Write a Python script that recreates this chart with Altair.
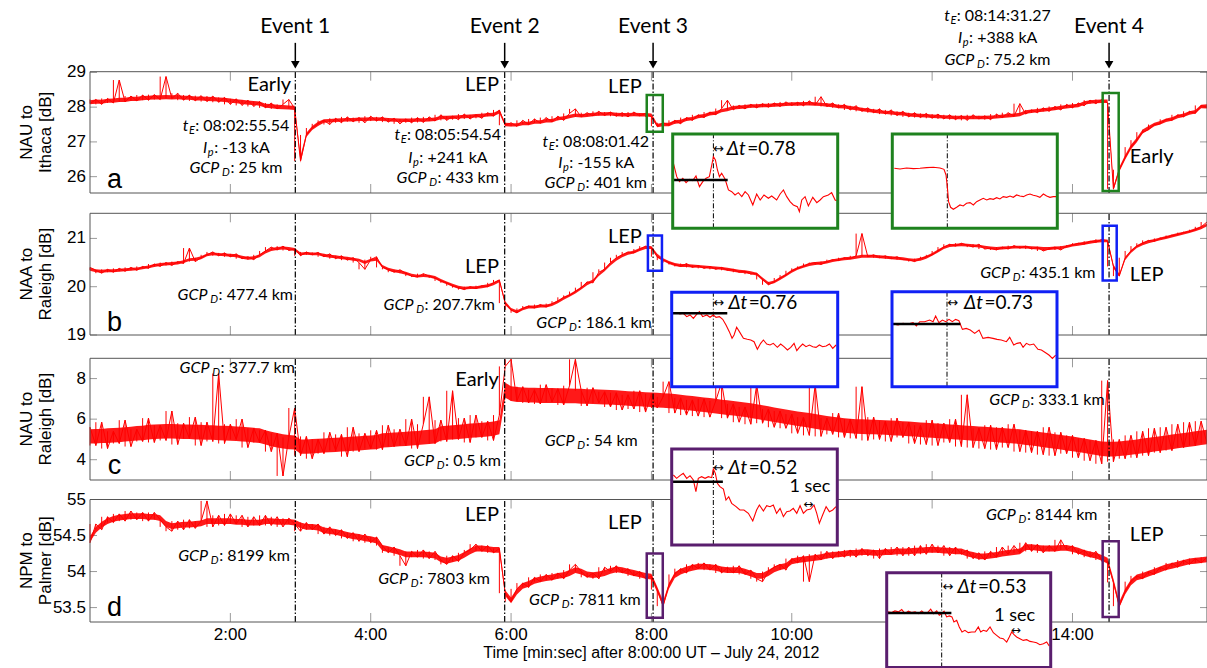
import altair as alt
import pandas as pd

# ------------------------------------------------------------------ data
TIME_S = list(range(0, 960, 5))  # sample times, seconds after 08:00:00 UT

# sampled excursions of each trace (5 s grid)
NAU_ITHACA = [
    28.10, 28.22, 28.08, 28.25, 28.12, 28.78, 28.15, 28.32, 28.18, 28.35,
    28.20, 28.36, 28.22, 28.88, 28.25, 28.40, 28.20, 28.35, 28.18, 28.33,
    28.16, 28.32, 28.14, 28.28, 28.08, 28.24, 28.05, 28.20, 28.02, 28.16,
    27.98, 28.12, 27.95, 28.08, 28.22, 27.96, 26.45, 27.20, 27.40, 27.52,
    27.62, 27.50, 27.68, 27.55, 27.72, 27.58, 27.70, 27.55, 27.74, 27.60,
    27.72, 27.57, 27.68, 27.52, 27.66, 27.55, 27.70, 27.56, 27.72, 27.60,
    27.78, 27.62, 27.74, 27.64, 27.80, 27.66, 27.78, 27.68, 27.84, 27.74,
    27.92, 27.48, 27.55, 27.45, 27.62, 27.50, 27.66, 27.54, 27.70, 27.58,
    27.74, 27.62, 27.82, 27.95, 27.72, 27.84, 27.75, 27.88, 27.76, 27.86,
    27.74, 27.84, 27.72, 27.86, 27.75, 27.82, 27.72, 27.45, 27.55, 27.48,
    27.62, 27.52, 27.70, 27.62, 27.78, 27.70, 27.86, 27.78, 27.96, 28.20,
    27.92, 28.05, 27.95, 28.08, 27.98, 28.10, 28.00, 28.12, 28.02, 28.15,
    28.05, 28.14, 28.04, 28.18, 28.06, 28.30, 28.02, 28.12, 27.98, 28.08,
    27.92, 28.04, 27.88, 27.98, 27.84, 27.95, 27.80, 27.92, 27.76, 27.88,
    27.72, 27.84, 27.70, 27.82, 27.68, 27.80, 27.66, 27.78, 27.64, 27.76,
    27.62, 27.78, 27.66, 27.75, 27.64, 27.80, 27.70, 27.84, 27.74, 28.10,
    27.80, 27.92, 27.84, 27.98, 27.88, 28.02, 27.92, 28.08, 27.98, 28.12,
    28.04, 28.20, 28.10, 28.22, 28.12, 25.65, 26.20, 26.55, 26.85, 27.05,
    27.28, 27.35, 27.50, 27.52, 27.65, 27.62, 27.78, 27.72, 27.88, 27.82,
    28.05, 28.00,
]
NAA_RALEIGH = [
    20.40, 20.34, 20.28, 20.36, 20.30, 20.38, 20.32, 20.40, 20.34, 20.42,
    20.38, 20.47, 20.42, 20.50, 20.44, 20.52, 20.48, 20.80, 20.52, 20.60,
    20.66, 20.72, 20.64, 20.70, 20.62, 20.68, 20.58, 20.62, 20.56, 20.66,
    20.74, 20.82, 20.76, 20.84, 20.75, 20.78, 20.64, 20.72, 20.66, 20.71,
    20.62, 20.68, 20.58, 20.64, 20.55, 20.60, 20.50, 20.36, 20.56, 20.62,
    20.40, 20.36, 20.30, 20.35, 20.28, 20.22, 20.20, 20.27, 20.22, 20.18,
    20.12, 20.08, 20.02, 19.98, 19.94, 20.00, 19.96, 20.02, 20.00, 20.08,
    20.14, 19.66, 19.52, 19.46, 19.55, 19.60, 19.56, 19.63, 19.58, 19.65,
    19.70, 19.78, 19.82, 19.90, 19.98, 20.10, 20.08, 20.30, 20.36, 20.50,
    20.60, 20.66, 20.72, 20.70, 20.78, 20.84, 20.82, 20.62, 20.55, 20.50,
    20.46, 20.42, 20.48, 20.40, 20.44, 20.38, 20.42, 20.36, 20.40, 20.34,
    20.36, 20.30, 20.32, 20.26, 20.28, 20.15, 20.04, 20.10, 20.18, 20.24,
    20.33, 20.38, 20.42, 20.48, 20.50, 20.46, 20.52, 20.56, 20.54, 20.60,
    20.58, 20.64, 21.10, 20.62, 20.66, 20.60, 20.64, 20.58, 20.62, 20.56,
    20.56, 20.52, 20.58, 20.62, 20.66, 20.74, 20.82, 20.88, 20.84, 20.90,
    20.86, 20.82, 20.88, 20.78, 20.80, 20.76, 20.82, 20.78, 20.85, 20.80,
    20.84, 20.78, 20.82, 20.74, 20.78, 20.82, 20.76, 20.84, 20.86, 20.90,
    20.88, 20.94, 20.92, 20.98, 20.95, 20.42, 20.22, 20.60, 20.74, 20.84,
    20.90, 20.96, 20.94, 21.00, 21.02, 21.06, 21.08, 21.12, 21.14, 21.18,
    21.24, 21.34,
]
NAU_RALEIGH = [
    5.60, 4.70, 5.85, 4.55, 5.40, 4.80, 5.95, 4.65, 5.50, 4.90,
    6.05, 4.85, 5.70, 4.95, 6.40, 4.75, 5.80, 5.05, 6.10, 4.70,
    5.85, 4.90, 8.25, 4.80, 5.75, 5.00, 6.00, 4.60, 5.55, 4.85,
    5.45, 4.40, 5.30, 3.20, 5.10, 6.55, 4.20, 5.15, 4.05, 5.00,
    4.30, 5.35, 4.45, 5.25, 4.15, 5.60, 4.40, 5.30, 4.55, 5.45,
    4.50, 5.70, 4.65, 5.50, 4.70, 6.00, 4.55, 5.75, 7.10, 4.80,
    5.95, 4.90, 7.40, 5.00, 6.05, 4.85, 6.20, 5.10, 5.90, 4.95,
    6.20, 8.60, 8.95, 6.90, 7.60, 6.80, 7.45, 6.75, 7.70, 6.85,
    7.50, 6.70, 7.65, 8.95, 7.40, 6.65, 7.55, 6.80, 7.35, 6.60,
    7.30, 6.45, 7.20, 6.50, 7.40, 6.35, 7.25, 6.55, 7.10, 7.85,
    6.30, 7.05, 6.20, 6.95, 6.15, 7.00, 6.10, 6.90, 7.80, 6.05,
    6.75, 5.85, 6.60, 5.75, 7.70, 5.80, 6.50, 5.60, 6.40, 5.55,
    6.25, 5.30, 6.10, 5.20, 7.70, 5.15, 6.05, 5.25, 6.30, 5.10,
    6.00, 5.05, 7.60, 4.95, 6.10, 5.00, 5.90, 4.90, 6.05, 5.10,
    5.85, 4.80, 5.70, 4.75, 5.95, 4.70, 5.80, 4.85, 6.00, 4.65,
    7.20, 4.60, 5.55, 4.55, 5.70, 4.50, 5.60, 4.60, 5.75, 4.40,
    5.45, 4.35, 5.40, 4.25, 5.60, 4.20, 5.35, 4.30, 5.20, 4.10,
    5.05, 3.95, 4.95, 3.80, 7.90, 3.90, 5.00, 4.05, 5.20, 4.10,
    5.40, 4.20, 5.55, 4.35, 5.60, 4.45, 5.75, 4.60, 5.85, 4.70,
    5.90, 4.80,
]
NPM_PALMER = [
    54.40, 54.66, 54.58, 54.76, 54.68, 54.80, 54.70, 54.84, 54.72, 54.82,
    54.70, 54.82, 54.72, 54.62, 54.56, 54.70, 54.58, 54.72, 54.60, 54.70,
    54.98, 54.62, 54.78, 54.64, 54.80, 54.66, 54.78, 54.62, 54.76, 54.64,
    54.78, 54.64, 54.76, 54.62, 54.74, 54.66, 54.56, 54.68, 54.58, 54.66,
    54.52, 54.62, 54.50, 54.58, 54.46, 54.54, 54.42, 54.52, 54.40, 54.48,
    54.36, 54.26, 54.34, 54.22, 54.08, 54.28, 54.20, 54.30, 54.18, 54.28,
    54.16, 54.10, 54.22, 54.14, 54.26, 54.30, 54.38, 54.28, 54.36, 54.26,
    54.32, 53.70, 53.58, 53.76, 53.84, 53.78, 53.92, 53.86, 53.96, 53.88,
    53.98, 53.90, 54.02, 54.10, 54.00, 53.92, 53.98, 53.90, 54.06, 54.00,
    54.08, 53.98, 54.04, 53.94, 54.00, 53.90, 53.94, 53.75, 53.52, 53.82,
    53.96, 54.04, 53.98, 54.10, 54.04, 54.12, 54.02, 54.10, 53.98, 54.06,
    53.98, 54.08, 53.96, 54.02, 53.90, 53.86, 54.00, 54.06, 54.10, 54.02,
    54.18, 54.12, 54.22, 53.86, 54.24, 54.16, 54.28, 54.18, 54.28, 54.20,
    54.30, 54.20, 54.32, 54.22, 54.30, 54.18, 54.32, 54.24, 54.34, 54.22,
    54.34, 54.22, 54.36, 54.24, 54.38, 54.26, 54.36, 54.22, 54.34, 54.24,
    54.30, 54.18, 54.26, 54.16, 54.28, 54.20, 54.34, 54.24, 54.36, 54.26,
    54.40, 54.28, 54.38, 54.26, 54.36, 54.28, 54.44, 54.30, 54.36, 54.24,
    54.30, 54.20, 54.28, 54.16, 54.14, 53.85, 53.52, 53.72, 53.86, 53.94,
    53.90, 54.00, 53.96, 54.06, 54.02, 54.12, 54.06, 54.16, 54.10, 54.18,
    54.12, 54.20,
]

# dense core of each trace (upper / lower edge of the band, 5 s grid)
NAU_ITHACA_HI = [
    28.20, 28.22, 28.21, 28.24, 28.25, 28.27, 28.27, 28.30, 28.30, 28.32,
    28.33, 28.34, 28.34, 28.35, 28.34, 28.35, 28.33, 28.33, 28.31, 28.31,
    28.30, 28.29, 28.28, 28.27, 28.25, 28.23, 28.21, 28.19, 28.18, 28.16,
    28.10, 28.09, 28.07, 28.06, 28.05, 28.04, 26.60, 27.26, 27.46, 27.58,
    27.65, 27.66, 27.67, 27.68, 27.69, 27.69, 27.70, 27.70, 27.71, 27.71,
    27.70, 27.69, 27.68, 27.67, 27.67, 27.67, 27.68, 27.68, 27.69, 27.70,
    27.75, 27.75, 27.76, 27.77, 27.78, 27.79, 27.80, 27.81, 27.83, 27.84,
    27.92, 27.55, 27.54, 27.54, 27.58, 27.58, 27.62, 27.62, 27.66, 27.66,
    27.72, 27.74, 27.78, 27.82, 27.80, 27.82, 27.84, 27.85, 27.85, 27.86,
    27.84, 27.83, 27.83, 27.84, 27.83, 27.83, 27.82, 27.52, 27.55, 27.55,
    27.62, 27.64, 27.70, 27.72, 27.78, 27.80, 27.86, 27.88, 27.95, 27.98,
    28.03, 28.05, 28.06, 28.08, 28.08, 28.10, 28.10, 28.11, 28.12, 28.13,
    28.14, 28.14, 28.15, 28.15, 28.14, 28.13, 28.11, 28.10, 28.07, 28.06,
    28.03, 28.01, 27.98, 27.96, 27.94, 27.92, 27.90, 27.89, 27.87, 27.86,
    27.83, 27.82, 27.81, 27.80, 27.79, 27.78, 27.77, 27.76, 27.75, 27.75,
    27.75, 27.75, 27.75, 27.75, 27.76, 27.77, 27.79, 27.80, 27.82, 27.84,
    27.91, 27.93, 27.95, 27.97, 27.99, 28.01, 28.04, 28.06, 28.08, 28.10,
    28.17, 28.20, 28.21, 28.22, 28.22, 25.72, 26.27, 26.62, 26.92, 27.12,
    27.36, 27.46, 27.55, 27.60, 27.67, 27.71, 27.78, 27.82, 27.88, 27.92,
    28.07, 28.08,
]
NAU_ITHACA_LO = [
    28.08, 28.10, 28.10, 28.13, 28.13, 28.15, 28.15, 28.18, 28.18, 28.20,
    28.21, 28.22, 28.22, 28.23, 28.22, 28.23, 28.21, 28.21, 28.19, 28.19,
    28.18, 28.17, 28.16, 28.15, 28.13, 28.11, 28.09, 28.07, 28.06, 28.04,
    27.98, 27.97, 27.95, 27.94, 27.93, 27.92, 26.40, 27.14, 27.34, 27.46,
    27.55, 27.56, 27.57, 27.58, 27.59, 27.59, 27.60, 27.60, 27.61, 27.61,
    27.60, 27.59, 27.58, 27.57, 27.57, 27.57, 27.58, 27.58, 27.59, 27.60,
    27.65, 27.65, 27.66, 27.67, 27.68, 27.69, 27.70, 27.71, 27.73, 27.74,
    27.82, 27.45, 27.44, 27.44, 27.48, 27.48, 27.52, 27.52, 27.56, 27.56,
    27.62, 27.64, 27.68, 27.72, 27.70, 27.72, 27.74, 27.75, 27.75, 27.76,
    27.74, 27.73, 27.73, 27.74, 27.73, 27.73, 27.72, 27.42, 27.45, 27.45,
    27.52, 27.54, 27.60, 27.62, 27.68, 27.70, 27.76, 27.78, 27.85, 27.88,
    27.93, 27.95, 27.96, 27.98, 27.98, 28.00, 28.00, 28.01, 28.02, 28.03,
    28.04, 28.04, 28.05, 28.05, 28.04, 28.03, 28.01, 28.00, 27.97, 27.96,
    27.93, 27.91, 27.88, 27.86, 27.84, 27.82, 27.80, 27.79, 27.77, 27.76,
    27.73, 27.72, 27.71, 27.70, 27.69, 27.68, 27.67, 27.66, 27.65, 27.65,
    27.65, 27.65, 27.65, 27.65, 27.66, 27.67, 27.69, 27.70, 27.72, 27.74,
    27.81, 27.83, 27.85, 27.87, 27.89, 27.91, 27.94, 27.96, 27.98, 28.00,
    28.07, 28.10, 28.11, 28.12, 28.12, 25.60, 26.14, 26.49, 26.79, 26.99,
    27.24, 27.34, 27.45, 27.50, 27.57, 27.61, 27.68, 27.72, 27.78, 27.82,
    27.97, 27.96,
]
NAA_RALEIGH_HI = [
    20.39, 20.36, 20.35, 20.36, 20.36, 20.37, 20.38, 20.39, 20.40, 20.42,
    20.44, 20.47, 20.49, 20.50, 20.51, 20.52, 20.55, 20.59, 20.60, 20.63,
    20.69, 20.71, 20.70, 20.69, 20.68, 20.67, 20.64, 20.62, 20.63, 20.67,
    20.75, 20.80, 20.82, 20.83, 20.82, 20.80, 20.71, 20.72, 20.71, 20.71,
    20.68, 20.66, 20.65, 20.63, 20.62, 20.60, 20.58, 20.53, 20.58, 20.60,
    20.45, 20.39, 20.36, 20.34, 20.31, 20.27, 20.25, 20.26, 20.25, 20.22,
    20.16, 20.11, 20.06, 20.02, 20.00, 20.01, 20.01, 20.03, 20.05, 20.09,
    20.15, 19.70, 19.56, 19.51, 19.57, 19.61, 19.61, 19.63, 19.63, 19.66,
    19.72, 19.79, 19.85, 19.92, 20.00, 20.09, 20.15, 20.28, 20.38, 20.50,
    20.60, 20.67, 20.72, 20.75, 20.80, 20.84, 20.84, 20.68, 20.59, 20.53,
    20.49, 20.47, 20.47, 20.46, 20.45, 20.44, 20.43, 20.42, 20.41, 20.39,
    20.37, 20.35, 20.34, 20.32, 20.29, 20.19, 20.10, 20.13, 20.20, 20.27,
    20.35, 20.41, 20.45, 20.49, 20.51, 20.52, 20.54, 20.57, 20.59, 20.61,
    20.62, 20.64, 20.66, 20.66, 20.66, 20.65, 20.64, 20.63, 20.62, 20.61,
    20.59, 20.58, 20.60, 20.64, 20.70, 20.77, 20.84, 20.88, 20.89, 20.90,
    20.89, 20.88, 20.87, 20.85, 20.83, 20.82, 20.83, 20.84, 20.85, 20.85,
    20.85, 20.84, 20.83, 20.82, 20.82, 20.83, 20.84, 20.86, 20.89, 20.91,
    20.93, 20.95, 20.97, 20.98, 20.98, 20.46, 20.27, 20.61, 20.76, 20.86,
    20.92, 20.96, 20.99, 21.02, 21.05, 21.08, 21.11, 21.14, 21.17, 21.21,
    21.25, 21.31,
]
NAA_RALEIGH_LO = [
    20.33, 20.30, 20.29, 20.30, 20.30, 20.31, 20.32, 20.33, 20.34, 20.36,
    20.38, 20.41, 20.43, 20.44, 20.45, 20.46, 20.49, 20.53, 20.54, 20.57,
    20.63, 20.65, 20.64, 20.63, 20.62, 20.61, 20.58, 20.56, 20.57, 20.61,
    20.69, 20.74, 20.76, 20.77, 20.76, 20.74, 20.65, 20.66, 20.65, 20.65,
    20.62, 20.60, 20.59, 20.57, 20.56, 20.54, 20.52, 20.47, 20.52, 20.54,
    20.39, 20.33, 20.30, 20.28, 20.25, 20.21, 20.19, 20.20, 20.19, 20.16,
    20.10, 20.05, 20.00, 19.96, 19.94, 19.95, 19.95, 19.97, 19.99, 20.03,
    20.09, 19.62, 19.50, 19.45, 19.51, 19.55, 19.55, 19.57, 19.57, 19.60,
    19.66, 19.73, 19.79, 19.86, 19.94, 20.03, 20.09, 20.22, 20.32, 20.44,
    20.54, 20.61, 20.66, 20.69, 20.74, 20.78, 20.78, 20.60, 20.53, 20.47,
    20.43, 20.41, 20.41, 20.40, 20.39, 20.38, 20.37, 20.36, 20.35, 20.33,
    20.31, 20.29, 20.28, 20.26, 20.23, 20.13, 20.04, 20.07, 20.14, 20.21,
    20.29, 20.35, 20.39, 20.43, 20.45, 20.46, 20.48, 20.51, 20.53, 20.55,
    20.56, 20.58, 20.60, 20.60, 20.60, 20.59, 20.58, 20.57, 20.56, 20.55,
    20.53, 20.52, 20.54, 20.58, 20.64, 20.71, 20.78, 20.82, 20.83, 20.84,
    20.83, 20.82, 20.81, 20.79, 20.77, 20.76, 20.77, 20.78, 20.79, 20.79,
    20.79, 20.78, 20.77, 20.76, 20.76, 20.77, 20.78, 20.80, 20.83, 20.85,
    20.87, 20.89, 20.91, 20.92, 20.92, 20.38, 20.21, 20.55, 20.70, 20.80,
    20.86, 20.90, 20.93, 20.96, 20.99, 21.02, 21.05, 21.08, 21.11, 21.15,
    21.19, 21.25,
]
NAU_RALEIGH_HI = [
    5.50, 5.52, 5.52, 5.55, 5.56, 5.58, 5.60, 5.62, 5.66, 5.68,
    5.72, 5.74, 5.75, 5.76, 5.76, 5.75, 5.74, 5.74, 5.72, 5.72,
    5.70, 5.70, 5.68, 5.67, 5.66, 5.64, 5.62, 5.60, 5.57, 5.55,
    5.45, 5.38, 5.32, 5.26, 5.22, 5.20, 5.00, 5.00, 5.02, 5.03,
    5.05, 5.07, 5.08, 5.10, 5.12, 5.14, 5.16, 5.18, 5.20, 5.22,
    5.30, 5.32, 5.34, 5.36, 5.38, 5.40, 5.42, 5.45, 5.48, 5.50,
    5.65, 5.68, 5.70, 5.72, 5.75, 5.78, 5.80, 5.82, 5.85, 5.88,
    5.95, 7.80, 7.62, 7.58, 7.56, 7.55, 7.55, 7.54, 7.54, 7.53,
    7.52, 7.52, 7.51, 7.50, 7.50, 7.48, 7.47, 7.46, 7.45, 7.44,
    7.42, 7.40, 7.38, 7.36, 7.35, 7.33, 7.32, 7.30, 7.28, 7.26,
    7.24, 7.20, 7.17, 7.14, 7.10, 7.07, 7.04, 7.00, 6.96, 6.93,
    6.90, 6.86, 6.82, 6.78, 6.73, 6.68, 6.63, 6.58, 6.53, 6.48,
    6.43, 6.38, 6.34, 6.30, 6.25, 6.20, 6.16, 6.12, 6.08, 6.05,
    6.02, 6.00, 5.99, 5.98, 5.97, 5.96, 5.95, 5.93, 5.92, 5.90,
    5.88, 5.86, 5.84, 5.82, 5.80, 5.78, 5.76, 5.74, 5.72, 5.70,
    5.68, 5.66, 5.64, 5.62, 5.60, 5.58, 5.56, 5.54, 5.52, 5.50,
    5.45, 5.42, 5.38, 5.34, 5.30, 5.26, 5.22, 5.18, 5.14, 5.10,
    5.05, 5.00, 4.95, 4.90, 4.88, 4.88, 4.90, 4.93, 4.96, 5.00,
    5.04, 5.08, 5.12, 5.16, 5.20, 5.24, 5.28, 5.32, 5.36, 5.40,
    5.44, 5.48,
]
NAU_RALEIGH_LO = [
    4.80, 4.80, 4.83, 4.82, 4.85, 4.86, 4.90, 4.92, 4.95, 4.96,
    5.00, 5.02, 5.03, 5.04, 5.04, 5.03, 5.02, 5.02, 5.00, 5.00,
    4.98, 4.98, 4.96, 4.95, 4.94, 4.92, 4.90, 4.88, 4.85, 4.83,
    4.75, 4.66, 4.60, 4.55, 4.52, 4.50, 4.30, 4.30, 4.31, 4.33,
    4.35, 4.37, 4.38, 4.40, 4.42, 4.44, 4.46, 4.48, 4.50, 4.52,
    4.60, 4.62, 4.64, 4.66, 4.68, 4.70, 4.72, 4.75, 4.78, 4.80,
    4.95, 4.98, 5.00, 5.02, 5.05, 5.08, 5.10, 5.12, 5.15, 5.18,
    5.25, 7.05, 6.90, 6.85, 6.84, 6.82, 6.82, 6.80, 6.80, 6.80,
    6.80, 6.79, 6.78, 6.78, 6.76, 6.76, 6.75, 6.74, 6.72, 6.72,
    6.70, 6.68, 6.66, 6.64, 6.63, 6.61, 6.60, 6.58, 6.56, 6.54,
    6.52, 6.48, 6.45, 6.42, 6.38, 6.35, 6.32, 6.28, 6.24, 6.21,
    6.18, 6.14, 6.10, 6.06, 6.01, 5.96, 5.91, 5.86, 5.81, 5.76,
    5.71, 5.66, 5.62, 5.58, 5.53, 5.48, 5.44, 5.40, 5.36, 5.33,
    5.30, 5.28, 5.27, 5.26, 5.25, 5.24, 5.23, 5.21, 5.20, 5.18,
    5.16, 5.14, 5.12, 5.10, 5.08, 5.06, 5.04, 5.02, 5.00, 4.98,
    4.96, 4.94, 4.92, 4.90, 4.88, 4.86, 4.84, 4.82, 4.80, 4.78,
    4.73, 4.70, 4.66, 4.62, 4.58, 4.54, 4.50, 4.46, 4.42, 4.38,
    4.33, 4.28, 4.23, 4.18, 4.16, 4.16, 4.18, 4.21, 4.24, 4.28,
    4.32, 4.36, 4.40, 4.44, 4.48, 4.52, 4.56, 4.60, 4.64, 4.68,
    4.72, 4.76,
]
NPM_PALMER_HI = [
    54.49, 54.62, 54.69, 54.74, 54.77, 54.79, 54.80, 54.81, 54.81, 54.81,
    54.80, 54.80, 54.78, 54.70, 54.67, 54.68, 54.69, 54.69, 54.70, 54.71,
    54.74, 54.74, 54.74, 54.74, 54.74, 54.73, 54.73, 54.72, 54.72, 54.72,
    54.74, 54.74, 54.73, 54.73, 54.73, 54.72, 54.68, 54.66, 54.66, 54.65,
    54.61, 54.60, 54.59, 54.57, 54.55, 54.53, 54.52, 54.50, 54.49, 54.47,
    54.37, 54.35, 54.33, 54.31, 54.28, 54.28, 54.28, 54.28, 54.27, 54.26,
    54.21, 54.19, 54.21, 54.23, 54.27, 54.32, 54.36, 54.36, 54.35, 54.34,
    54.34, 53.74, 53.64, 53.76, 53.84, 53.87, 53.91, 53.93, 53.95, 53.96,
    53.98, 53.99, 54.02, 54.06, 54.04, 54.00, 53.99, 54.00, 54.02, 54.05,
    54.07, 54.06, 54.04, 54.02, 54.00, 53.98, 53.97, 53.79, 53.59, 53.84,
    53.99, 54.04, 54.07, 54.09, 54.11, 54.11, 54.10, 54.09, 54.07, 54.06,
    54.06, 54.06, 54.04, 54.01, 53.98, 53.98, 54.02, 54.07, 54.10, 54.12,
    54.18, 54.20, 54.21, 54.22, 54.23, 54.24, 54.26, 54.27, 54.28, 54.29,
    54.30, 54.30, 54.31, 54.31, 54.30, 54.30, 54.31, 54.31, 54.32, 54.32,
    54.32, 54.33, 54.33, 54.34, 54.34, 54.34, 54.33, 54.33, 54.32, 54.32,
    54.29, 54.27, 54.25, 54.25, 54.26, 54.27, 54.29, 54.30, 54.31, 54.32,
    54.38, 54.38, 54.37, 54.36, 54.36, 54.36, 54.37, 54.37, 54.35, 54.33,
    54.30, 54.28, 54.26, 54.23, 54.19, 53.90, 53.58, 53.76, 53.89, 53.96,
    53.98, 54.01, 54.04, 54.07, 54.10, 54.12, 54.14, 54.16, 54.18, 54.19,
    54.20, 54.21,
]
NPM_PALMER_LO = [
    54.41, 54.54, 54.61, 54.66, 54.69, 54.71, 54.72, 54.73, 54.73, 54.73,
    54.72, 54.72, 54.70, 54.62, 54.59, 54.60, 54.61, 54.61, 54.62, 54.63,
    54.66, 54.66, 54.66, 54.66, 54.66, 54.65, 54.65, 54.64, 54.64, 54.64,
    54.66, 54.66, 54.65, 54.65, 54.65, 54.64, 54.60, 54.58, 54.58, 54.57,
    54.53, 54.52, 54.51, 54.49, 54.47, 54.45, 54.44, 54.42, 54.41, 54.39,
    54.29, 54.27, 54.25, 54.23, 54.20, 54.20, 54.20, 54.20, 54.19, 54.18,
    54.13, 54.11, 54.13, 54.15, 54.19, 54.24, 54.28, 54.28, 54.27, 54.26,
    54.26, 53.66, 53.56, 53.68, 53.76, 53.79, 53.83, 53.85, 53.87, 53.88,
    53.90, 53.91, 53.94, 53.98, 53.96, 53.92, 53.91, 53.92, 53.94, 53.97,
    53.99, 53.98, 53.96, 53.94, 53.92, 53.90, 53.89, 53.71, 53.51, 53.76,
    53.91, 53.96, 53.99, 54.01, 54.03, 54.03, 54.02, 54.01, 53.99, 53.98,
    53.98, 53.98, 53.96, 53.93, 53.90, 53.90, 53.94, 53.99, 54.02, 54.04,
    54.10, 54.12, 54.13, 54.14, 54.15, 54.16, 54.18, 54.19, 54.20, 54.21,
    54.22, 54.22, 54.23, 54.23, 54.22, 54.22, 54.23, 54.23, 54.24, 54.24,
    54.24, 54.25, 54.25, 54.26, 54.26, 54.26, 54.25, 54.25, 54.24, 54.24,
    54.21, 54.19, 54.17, 54.17, 54.18, 54.19, 54.21, 54.22, 54.23, 54.24,
    54.30, 54.30, 54.29, 54.28, 54.28, 54.28, 54.29, 54.29, 54.27, 54.25,
    54.22, 54.20, 54.18, 54.15, 54.11, 53.82, 53.50, 53.68, 53.81, 53.88,
    53.90, 53.93, 53.96, 53.99, 54.02, 54.04, 54.06, 54.08, 54.10, 54.11,
    54.12, 54.13,
]

EVENT_TIMES = [175.54, 354.54, 481.42, 871.27]
EVENT_NAMES = ["Event 1", "Event 2", "Event 3", "Event 4"]
TICK_TIMES = [120, 240, 360, 480, 600, 720, 840]
TICK_LABELS = ["2:00", "4:00", "6:00", "8:00", "10:00", "12:00", "14:00"]
X_TITLE = "Time [min:sec] after 8:00:00 UT \u2013 July 24, 2012"

# zoomed insets: time relative to event [s], level relative to pre-event [dB]
G1_T = [-2.18, -2.00, -1.85, -1.67, -1.49, -1.31, -1.13, -0.95, -0.76, -0.58, -0.40, -0.22, -0.09, 0.00,
        0.11, 0.22, 0.33, 0.45, 0.64, 0.82, 1.00, 1.18, 1.36, 1.55, 1.73, 1.91, 2.15, 2.36, 2.55, 2.76,
        3.00, 3.18, 3.45, 3.64, 3.82, 4.00, 4.18, 4.36, 4.58, 4.69, 4.82, 5.00, 5.18, 5.42, 5.64, 5.82,
        6.00, 6.27, 6.45, 6.64, 6.73]
G1_V = [0.50, 0.10, -0.05, 0.05, -0.08, 0.02, -0.02, 0.12, -0.20, -0.05, 0.05, 0.10, 0.45, 0.70,
        0.60, 0.30, 0.10, 0.20, 0.02, -0.30, -0.35, -0.45, -0.38, -0.50, -0.35, -0.45, -0.75, -0.42, -0.60, -0.45,
        -0.55, -0.48, -0.60, -0.42, -0.30, -0.50, -0.65, -0.75, -0.80, -0.95, -0.60, -0.50, -0.78, -0.52, -0.68, -0.60,
        -0.50, -0.45, -0.38, -0.60, -0.62]
G2_T = [-2.89, -2.58, -2.22, -1.85, -1.49, -1.13, -0.76, -0.40, -0.18, -0.07, 0.00, 0.07, 0.18, 0.33, 0.51,
        0.69, 0.87, 1.05, 1.24, 1.42, 1.60, 1.78, 1.96, 2.15, 2.33, 2.51, 2.69, 2.87, 3.05, 3.24, 3.42, 3.60,
        3.78, 3.96, 4.15, 4.33, 4.51, 4.69, 4.87, 5.05, 5.24, 5.42, 5.60, 5.78, 5.96]
G2_V = [0.00, -0.02, 0.01, -0.01, 0.00, 0.02, 0.03, 0.01, -0.03, -0.20, -0.55, -1.00, -1.17, -1.23, -1.17,
        -1.10, -1.13, -1.05, -1.03, -1.10, -1.00, -0.95, -0.90, -0.95, -0.91, -0.93, -0.88, -0.92, -0.85, -0.87,
        -0.83, -0.87, -0.80, -0.83, -0.85, -0.80, -0.77, -0.81, -0.83, -0.87, -0.77, -0.83, -0.87, -0.85, -0.85]
B1_T = [-2.22, -2.00, -1.82, -1.64, -1.45, -1.27, -1.09, -0.91, -0.76, -0.58, -0.36, -0.18, 0.00, 0.15,
        0.33, 0.51, 0.69, 0.87, 1.02, 1.13, 1.27, 1.42, 1.64, 1.85, 2.04, 2.22, 2.40, 2.58, 2.73, 2.91,
        3.09, 3.27, 3.49, 3.67, 3.85, 4.04, 4.22, 4.40, 4.55, 4.69, 4.87, 5.05, 5.24, 5.42, 5.60, 5.78,
        5.96, 6.15, 6.33, 6.51, 6.69]
B1_V = [0.02, 0.02, -0.02, 0.00, -0.10, -0.05, -0.15, -0.03, 0.05, -0.10, -0.05, -0.12, -0.05, -0.12,
        -0.10, -0.18, -0.35, -0.55, -0.75, -0.65, -0.42, -0.55, -0.75, -0.78, -0.80, -0.85, -1.08, -0.90, -0.80, -0.92,
        -0.95, -0.90, -1.02, -0.92, -1.00, -1.10, -1.02, -0.90, -1.12, -1.02, -0.92, -1.00, -0.95, -1.00, -1.02, -0.95,
        -1.00, -0.98, -0.92, -1.05, -0.95]
B2_T = [-2.95, -2.67, -2.40, -2.13, -1.85, -1.67, -1.49, -1.22, -0.95, -0.76, -0.62, -0.44, -0.25, -0.07,
        0.11, 0.29, 0.47, 0.65, 0.84, 1.05, 1.27, 1.51, 1.75, 1.96, 2.24, 2.51, 2.73, 2.96, 3.24, 3.42,
        3.64, 3.82, 4.00, 4.15, 4.33, 4.51, 4.73, 4.96, 5.15, 5.38, 5.56, 5.75, 5.93]
B2_V = [0.00, -0.03, 0.02, 0.00, 0.04, -0.06, 0.07, 0.07, 0.12, 0.07, 0.24, 0.04, 0.12, 0.07,
        0.14, 0.07, 0.14, 0.10, -0.16, -0.13, -0.18, -0.28, -0.18, -0.43, -0.40, -0.43, -0.46, -0.48, -0.53, -0.40,
        -0.63, -0.58, -0.56, -0.70, -0.58, -0.63, -0.60, -0.76, -0.78, -0.86, -0.93, -1.03, -0.93]
P1_T = [-2.18, -2.00, -1.82, -1.64, -1.45, -1.27, -1.09, -0.95, -0.82, -0.64, -0.45, -0.27, -0.09, 0.00,
        0.11, 0.22, 0.36, 0.55, 0.69, 0.84, 1.00, 1.24, 1.45, 1.67, 1.91, 2.15, 2.36, 2.51, 2.73, 2.91,
        3.09, 3.27, 3.45, 3.64, 3.82, 4.00, 4.18, 4.36, 4.55, 4.73, 4.91, 5.09, 5.31, 5.49, 5.64, 5.78,
        5.96, 6.15, 6.33, 6.51, 6.69]
P1_V = [0.20, 0.10, 0.18, 0.25, 0.10, 0.18, 0.05, -0.30, 0.10, 0.15, 0.10, 0.15, 0.12, 0.38,
        0.25, -0.05, -0.15, -0.22, -0.55, -0.45, -0.65, -0.75, -0.85, -0.85, -0.95, -1.18, -0.85, -0.70, -0.88, -0.72,
        -0.75, -0.70, -0.95, -0.80, -1.05, -0.90, -0.88, -0.80, -0.95, -0.72, -0.95, -0.85, -0.82, -0.70, -0.95, -1.25,
        -1.00, -0.75, -0.90, -0.85, -0.75]
P2_T = [-2.95, -2.73, -2.55, -2.36, -2.18, -2.00, -1.82, -1.64, -1.45, -1.27, -1.09, -0.91, -0.73, -0.60,
        -0.45, -0.27, -0.13, 0.00, 0.13, 0.27, 0.42, 0.56, 0.67, 0.82, 0.96, 1.11, 1.27, 1.45, 1.64, 1.82,
        2.00, 2.13, 2.27, 2.45, 2.64, 2.82, 3.00, 3.18, 3.36, 3.55, 3.69, 3.82, 3.95, 4.09, 4.27, 4.45,
        4.64, 4.82, 5.00, 5.18, 5.36, 5.55, 5.73, 5.87]
P2_V = [0.03, 0.01, 0.06, 0.03, 0.10, -0.02, 0.05, 0.01, 0.03, -0.02, 0.06, -0.02, 0.03, 0.11,
        -0.02, 0.06, -0.07, -0.02, 0.05, -0.12, -0.09, -0.12, -0.27, -0.22, -0.42, -0.57, -0.52, -0.59, -0.57, -0.57,
        -0.42, -0.57, -0.52, -0.55, -0.42, -0.59, -0.67, -0.75, -0.77, -0.87, -0.72, -0.57, -0.65, -0.72, -0.77, -0.82,
        -0.80, -0.85, -0.87, -0.89, -0.95, -0.92, -0.87, -0.99]

# annotations: (panel, time anchor [s], level [dB], align, italic, subscript, rest)
ANNOTATIONS = [
    ("a", 124.0, 27.45, "center", "t", "E", ": 08:02:55.54"),
    ("a", 124.0, 26.82, "center", "I", "p", ": -13 kA"),
    ("a", 124.0, 26.24, "center", "GCP", "D", ": 25 km"),
    ("a", 305.0, 27.20, "center", "t", "E", ": 08:05:54.54"),
    ("a", 305.0, 26.53, "center", "I", "p", ": +241 kA"),
    ("a", 305.0, 25.96, "center", "GCP", "D", ": 433 km"),
    ("a", 431.6, 27.00, "center", "t", "E", ": 08:08:01.42"),
    ("a", 431.6, 26.38, "center", "I", "p", ": -155 kA"),
    ("a", 431.6, 25.81, "center", "GCP", "D", ": 401 km"),
    ("a", 775.0, 30.63, "center", "t", "E", ": 08:14:31.27"),
    ("a", 775.0, 29.99, "center", "I", "p", ": +388 kA"),
    ("a", 775.0, 29.36, "center", "GCP", "D", ": 75.2 km"),
    ("b", 171.8, 19.83, "right", "GCP", "D", ": 477.4 km"),
    ("b", 347.9, 19.63, "right", "GCP", "D", ":  207.7km"),
    ("b", 478.6, 19.25, "right", "GCP", "D", ": 186.1 km"),
    ("b", 858.0, 20.29, "right", "GCP", "D", ": 435.1 km"),
    ("c", 173.5, 8.51, "right", "GCP", "D", ": 377.7 km"),
    ("c", 349.6, 3.92, "right", "GCP", "D", ": 0.5 km"),
    ("c", 466.7, 4.90, "right", "GCP", "D", ": 54 km"),
    ("c", 865.8, 6.96, "right", "GCP", "D", ": 333.1 km"),
    ("d", 169.2, 54.22, "right", "GCP", "D", ": 8199 km"),
    ("d", 340.2, 53.89, "right", "GCP", "D", ": 7803 km"),
    ("d", 469.2, 53.61, "right", "GCP", "D", ": 7811 km"),
    ("d", 859.8, 54.79, "right", "GCP", "D", ": 8144 km"),
]
LABELS = [
    ("a", 172.0, 28.64, "right", "Early"),
    ("a", 349.6, 28.64, "right", "LEP"),
    ("a", 471.8, 28.58, "right", "LEP"),
    ("a", 889.0, 26.56, "left", "Early"),
    ("b", 349.6, 20.41, "right", "LEP"),
    ("b", 471.8, 21.03, "right", "LEP"),
    ("b", 889.0, 20.25, "left", "LEP"),
    ("c", 349.6, 7.92, "right", "Early"),
    ("d", 349.6, 54.79, "right", "LEP"),
    ("d", 471.8, 54.68, "right", "LEP"),
    ("d", 889.0, 54.51, "left", "LEP"),
]
# highlighted intervals in the main panels: (t0, t1, v0, v1)
BOXES = {
    "a": [(476.0, 489.7, 27.29, 28.35), (865.8, 879.5, 25.59, 28.41)],
    "b": [(477.0, 489.0, 20.33, 21.06), (865.8, 877.8, 20.13, 21.26)],
    "d": [(476.0, 489.7, 53.36, 54.25), (865.8, 879.5, 53.37, 54.42)],
}

# ------------------------------------------------------------------ style / layout
PLOT_W, PLOT_H, LEFT_PAD = 1117, 668, 90
T_MAX = 955
PX_PER_S = PLOT_W / T_MAX
RED, GREEN, BLUE, PURPLE = "#ff0000", "#1e821e", "#1020f5", "#5a1e6e"
BOX_COLOR = {"a": GREEN, "b": BLUE, "d": PURPLE}
AX_FONT, ANN_FONT = "Liberation Sans", "Lato"
ANN_SIZE, SUB_SIZE = 16, 11
BAND_OPACITY = 0.9

PANELS = [
    dict(key="a", values=NAU_ITHACA, hi_band=NAU_ITHACA_HI, lo_band=NAU_ITHACA_LO,
         dom=[25.53, 29.02], rng=[193.0, 71.7],
         yticks=[26, 27, 28, 29], ylabels=["26", "27", "28", "29"], title="NAU to\nIthaca [dB]", letter_v=25.9),
    dict(key="b", values=NAA_RALEIGH, hi_band=NAA_RALEIGH_HI, lo_band=NAA_RALEIGH_LO,
         dom=[19.0, 21.52], rng=[335.0, 213.3],
         yticks=[19, 20, 21], ylabels=["19", "20", "21"], title="NAA to\nRaleigh [dB]", letter_v=19.25),
    dict(key="c", values=NAU_RALEIGH, hi_band=NAU_RALEIGH_HI, lo_band=NAU_RALEIGH_LO,
         dom=[3.0, 9.0], rng=[480.0, 358.3],
         yticks=[4, 6, 8], ylabels=["4", "6", "8"], title="NAU to\nRaleigh [dB]", letter_v=3.67),
    dict(key="d", values=NPM_PALMER, hi_band=NPM_PALMER_HI, lo_band=NPM_PALMER_LO,
         dom=[53.3, 55.0], rng=[622.0, 499.5],
         yticks=[53.5, 54, 54.5, 55], ylabels=["53.5", "54", "54.5", "55"], title="NPM to\nPalmer [dB]", letter_v=53.5),
]

INSETS = [
    dict(color=GREEN, t=G1_T, v=G1_V, xdom=[-2.22, 6.78], xr=[582.7, 747.7], ydom=[-1.45, 1.38], yr=[228.3, 134.0],
         base_end=0.78, dt="=0.78", arrow=(0.29, 0.92), label=(0.73, 0.92), sec=None),
    dict(color=GREEN, t=G2_T, v=G2_V, xdom=[-3.0, 6.0], xr=[802.3, 967.3], ydom=[-1.80, 1.03], yr=[228.3, 134.0],
         base_end=None, dt=None, arrow=None, label=None, sec=None),
    dict(color=BLUE, t=B1_T, v=B1_V, xdom=[-2.27, 6.78], xr=[581.7, 747.7], ydom=[-2.20, 0.63], yr=[386.7, 292.3],
         base_end=0.76, dt="=0.76", arrow=(0.31, 0.30), label=(0.82, 0.30), sec=None),
    dict(color=BLUE, t=B2_T, v=B2_V, xdom=[-3.0, 6.0], xr=[802.0, 967.0], ydom=[-1.88, 0.97], yr=[386.7, 291.7],
         base_end=0.73, dt="=0.73", arrow=(0.33, 0.62), label=(0.93, 0.62), sec=None),
    dict(color=PURPLE, t=P1_T, v=P1_V, xdom=[-2.27, 6.76], xr=[581.7, 747.3], ydom=[-1.90, 0.98], yr=[545.0, 449.0],
         base_end=0.52, dt="=0.52", arrow=(0.29, 0.42), label=(0.82, 0.42), sec=((5.27, -0.16), (5.18, -0.67))),
    dict(color=PURPLE, t=P2_T, v=P2_V, xdom=[-3.0, 5.95], xr=[796.7, 960.7], ydom=[-1.63, 1.20], yr=[667.5, 572.7],
         base_end=0.53, dt="=0.53", arrow=(0.36, 0.78), label=(0.87, 0.78), sec=((3.98, -0.10), (4.04, -0.51))),
]

LATO_EM = {" ": 0.193, ":": 0.24, ".": 0.23, "-": 0.35, "+": 0.58, "k": 0.52, "m": 0.86, "A": 0.68,
           "G": 0.73, "C": 0.68, "P": 0.60, "D": 0.76, "t": 0.36, "I": 0.27, "p": 0.57, "E": 0.56,
           "\u0394": 0.66, "=": 0.58}
for _d in "0123456789":
    LATO_EM[_d] = 0.58


def text_px(s, size):
    return sum(LATO_EM.get(ch, 0.55) for ch in s) * size


def rich_rows(t_anchor, v, align, main, sub, rest):
    parts = [(main, "it", ANN_SIZE), (sub, "sub", SUB_SIZE), (rest, "rm", ANN_SIZE)]
    widths = [text_px(s, sz) for s, _, sz in parts]
    total = sum(widths)
    x = t_anchor * PX_PER_S - {"left": 0.0, "center": total / 2, "right": total}[align]
    rows = []
    for (s, st, _), w in zip(parts, widths):
        rows.append({"t": x / PX_PER_S, "v": v, "text": s, "style": st})
        x += w + (0.5 if st == "it" else 0.0)
    return rows


def panel_layers(p):
    xs = alt.Scale(domain=[0, T_MAX], range=[0, PLOT_W], nice=False, zero=False)
    ysc = alt.Scale(domain=p["dom"], range=p["rng"], nice=False, zero=False)

    def X(f):
        return alt.X(f, type="quantitative", scale=xs, axis=None)

    def Y(f):
        return alt.Y(f, type="quantitative", scale=ysc, axis=None)

    lo, hi = p["dom"]
    px_per_v = (p["rng"][0] - p["rng"][1]) / (hi - lo)
    tl_v = 9.0 / px_per_v
    tl_t = 7.0 / PX_PER_S
    key = p["key"]
    layers = []

    # inward tick marks
    n = len(TICK_TIMES)
    xt = pd.DataFrame({"t": TICK_TIMES * 2, "v0": [hi] * n + [lo] * n,
                       "v1": [hi - tl_v] * n + [lo + tl_v] * n})
    layers.append(alt.Chart(xt).mark_rule(color="#9a9a9a", strokeWidth=1).encode(
        x=X("t"), y=Y("v0"), y2=alt.Y2("v1")))
    m = len(p["yticks"])
    yt = pd.DataFrame({"t0": [0.0] * m + [T_MAX] * m, "t1": [tl_t] * m + [T_MAX - tl_t] * m,
                       "v": p["yticks"] * 2})
    layers.append(alt.Chart(yt).mark_rule(color="#9a9a9a", strokeWidth=1).encode(
        x=X("t0"), x2=alt.X2("t1"), y=Y("v")))

    # signal: dense core band + sampled excursions (line + vertical strokes)
    band = pd.DataFrame({"t": TIME_S, "lo": p["lo_band"], "hi": p["hi_band"]})
    layers.append(alt.Chart(band).mark_area(color=RED, opacity=BAND_OPACITY, strokeWidth=0).encode(
        x=X("t"), y=Y("lo"), y2=alt.Y2("hi")))
    sig = pd.DataFrame({"t": TIME_S, "v": p["values"]})
    sig["nxt"] = sig["v"].shift(-1).fillna(sig["v"])
    layers.append(alt.Chart(sig).mark_rule(color=RED, strokeWidth=1).encode(
        x=X("t"), y=Y("v"), y2=alt.Y2("nxt")))
    layers.append(alt.Chart(sig).mark_line(color=RED, strokeWidth=1).encode(x=X("t"), y=Y("v")))

    # event lines
    ev = pd.DataFrame({"t": EVENT_TIMES, "v0": [lo] * 4, "v1": [hi] * 4})
    layers.append(alt.Chart(ev).mark_rule(color="black", strokeWidth=1.2, strokeDash=[6, 2, 1.5, 2]).encode(
        x=X("t"), y=Y("v0"), y2=alt.Y2("v1")))

    # frame
    fr = pd.DataFrame({"t0": [0.0], "t1": [T_MAX], "v0": [lo], "v1": [hi]})
    layers.append(alt.Chart(fr).mark_rect(fillOpacity=0, stroke="#555555", strokeWidth=1).encode(
        x=X("t0"), x2=alt.X2("t1"), y=Y("v0"), y2=alt.Y2("v1")))

    # highlighted intervals
    if key in BOXES:
        bx = pd.DataFrame(BOXES[key], columns=["t0", "t1", "v0", "v1"])
        layers.append(alt.Chart(bx).mark_rect(fillOpacity=0, stroke=BOX_COLOR[key], strokeWidth=2.5).encode(
            x=X("t0"), x2=alt.X2("t1"), y=Y("v0"), y2=alt.Y2("v1")))

    # y tick labels
    ytl = pd.DataFrame({"t": [0.0] * m, "v": p["yticks"], "lab": p["ylabels"]})
    layers.append(alt.Chart(ytl).mark_text(font=AX_FONT, fontSize=17, align="right", baseline="middle",
                                           dx=-4, color="black").encode(x=X("t"), y=Y("v"), text="lab:N"))
    # y title
    yttl = pd.DataFrame({"v": [(lo + hi) / 2], "lab": [p["title"]]})
    layers.append(alt.Chart(yttl).mark_text(font=AX_FONT, fontSize=17, angle=270, lineBreak="\n",
                                            lineHeight=19, align="center", baseline="middle",
                                            color="black").encode(x=alt.value(-63), y=Y("v"), text="lab:N"))
    # panel letter
    let = pd.DataFrame({"t": [21.0], "v": [p["letter_v"]], "lab": [key]})
    layers.append(alt.Chart(let).mark_text(font=AX_FONT, fontSize=27, align="center", baseline="middle",
                                           color="black").encode(x=X("t"), y=Y("v"), text="lab:N"))

    # annotations with subscripts
    rows = []
    for a in ANNOTATIONS:
        if a[0] == key:
            rows += rich_rows(*a[1:])
    if rows:
        ann = pd.DataFrame(rows)
        layers.append(alt.Chart(ann[ann["style"] == "it"]).mark_text(
            font=ANN_FONT, fontStyle="italic", fontSize=ANN_SIZE, align="left", baseline="middle",
            color="black").encode(x=X("t"), y=Y("v"), text="text:N"))
        layers.append(alt.Chart(ann[ann["style"] == "sub"]).mark_text(
            font=ANN_FONT, fontStyle="italic", fontSize=SUB_SIZE, align="left", baseline="middle", dy=5,
            color="black").encode(x=X("t"), y=Y("v"), text="text:N"))
        layers.append(alt.Chart(ann[ann["style"] == "rm"]).mark_text(
            font=ANN_FONT, fontSize=ANN_SIZE, align="left", baseline="middle",
            color="black").encode(x=X("t"), y=Y("v"), text="text:N"))

    labs = pd.DataFrame([l for l in LABELS if l[0] == key], columns=["p", "t", "v", "al", "lab"])
    for al in ["left", "right"]:
        sub = labs[labs["al"] == al]
        if len(sub):
            layers.append(alt.Chart(sub).mark_text(font=ANN_FONT, fontSize=20, align=al, baseline="middle",
                                                   color="black").encode(x=X("t"), y=Y("v"), text="lab:N"))

    if key == "a":
        ar = pd.DataFrame({"t": EVENT_TIMES, "v0": [29.85] * 4, "v1": [29.32] * 4,
                           "vh": [29.22] * 4, "vl": [30.32] * 4, "name": EVENT_NAMES})
        layers.append(alt.Chart(ar).mark_rule(color="black", strokeWidth=1.5).encode(
            x=X("t"), y=Y("v0"), y2=alt.Y2("v1")))
        layers.append(alt.Chart(ar).mark_point(shape="triangle-down", filled=True, size=75, color="black",
                                               opacity=1).encode(x=X("t"), y=Y("vh")))
        layers.append(alt.Chart(ar).mark_text(font=ANN_FONT, fontSize=21, align="center", baseline="middle",
                                              color="black").encode(x=X("t"), y=Y("vl"), text="name:N"))

    if key == "d":
        xl = pd.DataFrame({"t": TICK_TIMES, "v": [lo] * n, "lab": TICK_LABELS})
        layers.append(alt.Chart(xl).mark_text(font=AX_FONT, fontSize=17, align="center", baseline="middle",
                                              dy=13, color="black").encode(x=X("t"), y=Y("v"), text="lab:N"))
        xtt = pd.DataFrame({"t": [480.0], "v": [lo], "lab": [X_TITLE]})
        layers.append(alt.Chart(xtt).mark_text(font=AX_FONT, fontSize=16, align="center", baseline="middle",
                                               dy=31, color="black").encode(x=X("t"), y=Y("v"), text="lab:N"))
    return layers


def inset_layers(ins):
    xs = alt.Scale(domain=ins["xdom"], range=ins["xr"], nice=False, zero=False)
    ysc = alt.Scale(domain=ins["ydom"], range=ins["yr"], nice=False, zero=False)

    def X(f):
        return alt.X(f, type="quantitative", scale=xs, axis=None)

    def Y(f):
        return alt.Y(f, type="quantitative", scale=ysc, axis=None)

    x0, x1 = ins["xdom"]
    y0, y1 = ins["ydom"]
    box = pd.DataFrame({"t0": [x0], "t1": [x1], "v0": [y0], "v1": [y1]})
    layers = [alt.Chart(box).mark_rect(fill="white", strokeWidth=0).encode(
        x=X("t0"), x2=alt.X2("t1"), y=Y("v0"), y2=alt.Y2("v1"))]
    dd = pd.DataFrame({"t": [0.0], "v0": [y0], "v1": [y1]})
    layers.append(alt.Chart(dd).mark_rule(color="black", strokeWidth=1, strokeDash=[5, 2, 1, 2]).encode(
        x=X("t"), y=Y("v0"), y2=alt.Y2("v1")))
    sig = pd.DataFrame({"t": ins["t"], "v": ins["v"]})
    layers.append(alt.Chart(sig).mark_line(color=RED, strokeWidth=1.1).encode(x=X("t"), y=Y("v")))
    if ins["base_end"] is not None:
        bl = pd.DataFrame({"t0": [x0], "t1": [ins["base_end"]], "v": [0.0]})
        layers.append(alt.Chart(bl).mark_rule(color="black", strokeWidth=2.5).encode(
            x=X("t0"), x2=alt.X2("t1"), y=Y("v")))
    if ins["dt"] is not None:
        ad = pd.DataFrame({"t": [ins["arrow"][0]], "v": [ins["arrow"][1]], "lab": ["\u2194"]})
        layers.append(alt.Chart(ad).mark_text(font="DejaVu Sans", fontSize=13, align="center",
                                              baseline="middle", color="black").encode(
            x=X("t"), y=Y("v"), text="lab:N"))
        ld = pd.DataFrame({"t": [ins["label"][0]], "v": [ins["label"][1]], "a": ["\u0394t"], "b": [ins["dt"]]})
        layers.append(alt.Chart(ld).mark_text(font=ANN_FONT, fontStyle="italic", fontSize=19, align="left",
                                              baseline="middle", color="black").encode(
            x=X("t"), y=Y("v"), text="a:N"))
        layers.append(alt.Chart(ld).mark_text(font=ANN_FONT, fontSize=19, align="left", baseline="middle",
                                              dx=text_px("\u0394t", 19) + 1, color="black").encode(
            x=X("t"), y=Y("v"), text="b:N"))
    if ins["sec"] is not None:
        (lt, lv), (at, av) = ins["sec"]
        sd = pd.DataFrame({"t": [lt, at], "v": [lv, av], "lab": ["1 sec", "\u2194"]})
        layers.append(alt.Chart(sd.iloc[[0]]).mark_text(font=ANN_FONT, fontSize=18, align="center",
                                                        baseline="middle", color="black").encode(
            x=X("t"), y=Y("v"), text="lab:N"))
        layers.append(alt.Chart(sd.iloc[[1]]).mark_text(font="DejaVu Sans", fontSize=12, align="center",
                                                        baseline="middle", color="black").encode(
            x=X("t"), y=Y("v"), text="lab:N"))
    layers.append(alt.Chart(box).mark_rect(fillOpacity=0, stroke=ins["color"], strokeWidth=3).encode(
        x=X("t0"), x2=alt.X2("t1"), y=Y("v0"), y2=alt.Y2("v1")))
    return layers


groups = [alt.layer(*panel_layers(p)) for p in PANELS] + [alt.layer(*inset_layers(i)) for i in INSETS]

chart = alt.layer(*groups).resolve_scale(x="independent", y="independent").properties(
    width=PLOT_W, height=PLOT_H,
    padding={"left": LEFT_PAD, "top": 0, "right": 0, "bottom": 0},
    autosize=alt.AutoSizeParams(type="none"),
    background="white",
).configure_view(stroke=None)

chart.save("out.html", embed_options={"renderer": "svg", "actions": False})
